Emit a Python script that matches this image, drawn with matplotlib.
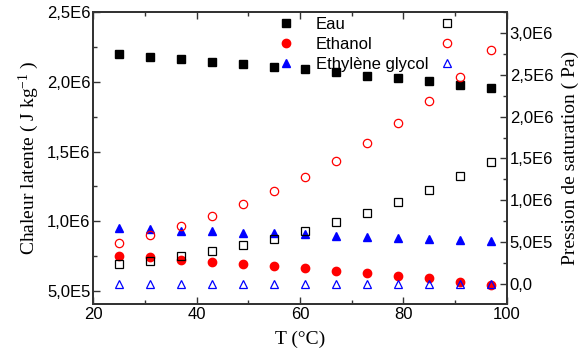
import matplotlib.pyplot as plt
from matplotlib.ticker import MultipleLocator, FuncFormatter
from matplotlib.lines import Line2D

plt.rcParams["mathtext.fontset"] = "custom"
plt.rcParams["mathtext.rm"] = "Liberation Serif"
plt.rcParams["mathtext.it"] = "Liberation Serif:italic"

# Temperatures (°C)
T = [25, 31, 37, 43, 49, 55, 61, 67, 73, 79, 85, 91, 97]

# Latent heat (J/kg), left axis
L_eau = [2.199e6, 2.180e6, 2.163e6, 2.144e6, 2.127e6, 2.108e6, 2.089e6,
         2.068e6, 2.043e6, 2.025e6, 2.003e6, 1.979e6, 1.957e6]
L_ethanol = [0.751e6, 0.742e6, 0.722e6, 0.710e6, 0.694e6, 0.679e6, 0.663e6,
             0.645e6, 0.629e6, 0.610e6, 0.591e6, 0.567e6, 0.541e6]
L_glycol = [0.949e6, 0.944e6, 0.934e6, 0.930e6, 0.920e6, 0.915e6, 0.906e6,
            0.896e6, 0.889e6, 0.882e6, 0.873e6, 0.866e6, 0.859e6]

# Saturation pressure (Pa), right axis
P_eau = [0.235e6, 0.278e6, 0.331e6, 0.394e6, 0.466e6, 0.541e6, 0.633e6,
         0.737e6, 0.852e6, 0.976e6, 1.120e6, 1.291e6, 1.455e6]
P_ethanol = [0.494e6, 0.586e6, 0.697e6, 0.816e6, 0.956e6, 1.108e6, 1.282e6,
             1.474e6, 1.689e6, 1.928e6, 2.191e6, 2.478e6, 2.797e6]
P_glycol = [0.005e6] * 13

labels = ["Eau", "Ethanol", "Ethylène glycol"]


def sci_fmt(v, pos):
    if abs(v) < 1e-9:
        return "0,0"
    s = "%.1E" % v
    mant, exp = s.split("E")
    return mant.replace(".", ",") + "E" + str(int(exp))


fig = plt.figure(figsize=(5.78, 3.5), dpi=100)
ax = fig.add_axes([0.161, 0.131, 0.716, 0.835])
ax2 = ax.twinx()

ms = 5.5
ax.plot(T, L_eau, "s", color="black", ms=ms, ls="none")
ax.plot(T, L_ethanol, "o", color="red", ms=ms + 0.5, ls="none")
ax.plot(T, L_glycol, "^", color="blue", ms=ms + 0.5, ls="none")

ax2.plot(T, P_eau, "s", mfc="none", mec="black", mew=0.9, ms=ms, ls="none")
ax2.plot(T, P_ethanol, "o", mfc="none", mec="red", mew=0.9, ms=ms + 0.5, ls="none")
ax2.plot(T, P_glycol, "^", mfc="none", mec="blue", mew=0.9, ms=ms + 0.5, ls="none")

ax.set_xlim(20, 100)
ax.set_ylim(4.07e5, 2.5e6)
ax2.set_ylim(-2.4e5, 3.25e6)

ax.xaxis.set_major_locator(MultipleLocator(20))
ax.xaxis.set_minor_locator(MultipleLocator(10))
ax.yaxis.set_major_locator(MultipleLocator(5e5))
ax.yaxis.set_minor_locator(MultipleLocator(2.5e5))
ax2.yaxis.set_major_locator(MultipleLocator(5e5))
ax2.yaxis.set_minor_locator(MultipleLocator(2.5e5))
ax.yaxis.set_major_formatter(FuncFormatter(sci_fmt))
ax2.yaxis.set_major_formatter(FuncFormatter(sci_fmt))

tickfont = "Liberation Sans"
for a in (ax, ax2):
    for sp in a.spines.values():
        sp.set_linewidth(1.3)
        sp.set_color("#333333")
    for lab in a.get_xticklabels() + a.get_yticklabels():
        lab.set_fontfamily(tickfont)
ax.tick_params(which="both", direction="in", top=True, labelsize=12, width=1.0, color="#333333", pad=2)
ax.tick_params(which="major", length=5)
ax.tick_params(which="minor", length=3)
ax2.tick_params(which="both", direction="in", labelsize=12, width=1.0, color="#333333", pad=2)
ax2.tick_params(which="major", length=5)
ax2.tick_params(which="minor", length=3)

serif = "Liberation Serif"
ax.set_xlabel("T (°C)", family=serif, fontsize=14, labelpad=6)
ax.set_ylabel("Chaleur latente ( J kg$^{\\mathrm{-1}}$ )", family=serif, fontsize=14, labelpad=4)
ax2.set_ylabel("Pression de saturation ( Pa)", family=serif, fontsize=14, labelpad=6)

handles = [
    Line2D([], [], marker="s", color="black", ls="none", ms=ms),
    Line2D([], [], marker="o", color="red", ls="none", ms=ms + 0.5),
    Line2D([], [], marker="^", color="blue", ls="none", ms=ms + 0.5),
    Line2D([], [], marker="s", mfc="none", mec="black", mew=0.9, ls="none", ms=ms),
    Line2D([], [], marker="o", mfc="none", mec="red", mew=0.9, ls="none", ms=ms + 0.5),
    Line2D([], [], marker="^", mfc="none", mec="blue", mew=0.9, ls="none", ms=ms + 0.5),
]
leg = ax2.legend(handles, labels + ["", "", ""], ncol=2, frameon=False,
                 loc="upper left", bbox_to_anchor=(0.43, 1.005),
                 prop={"family": tickfont, "size": 12},
                 handlelength=1.0, handletextpad=1.3, columnspacing=0.6,
                 labelspacing=0.3, borderaxespad=0)

fig.savefig("out.png", dpi=100)
